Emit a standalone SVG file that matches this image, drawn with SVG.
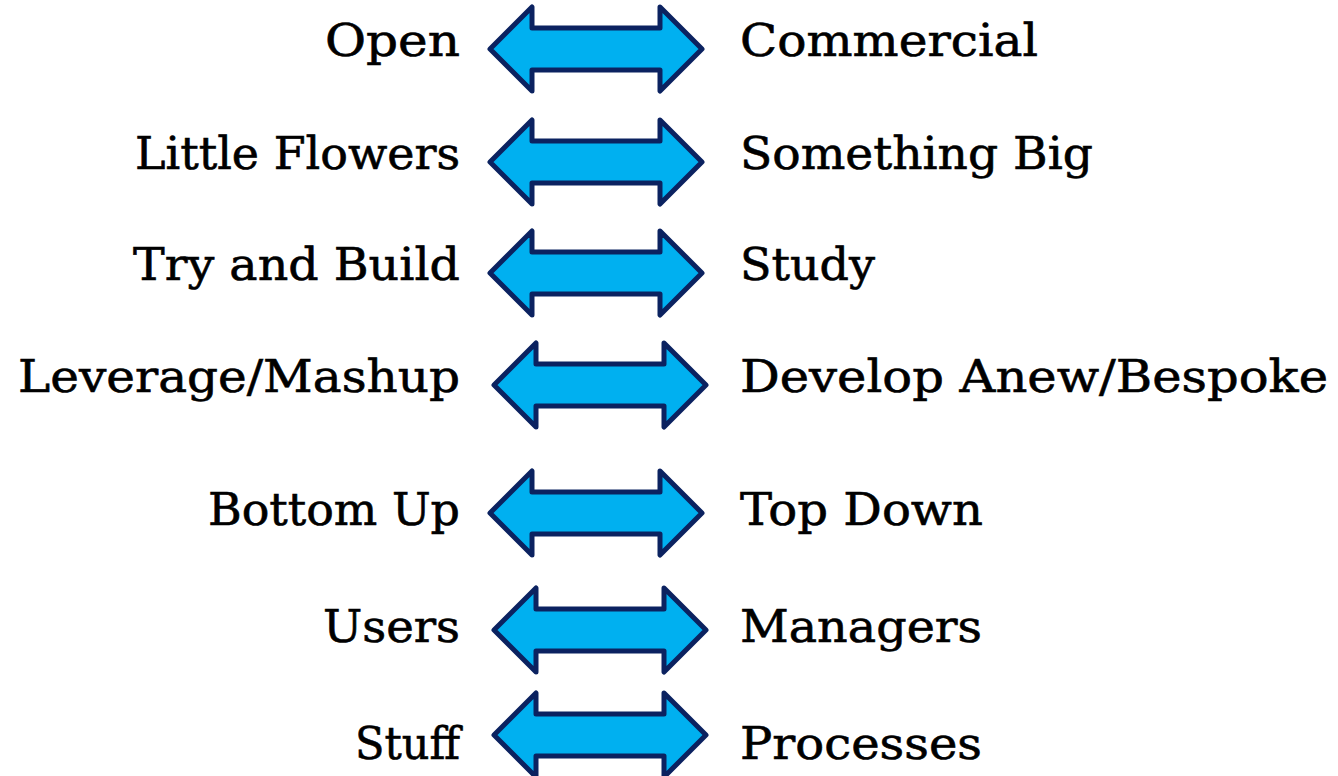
<svg xmlns="http://www.w3.org/2000/svg" width="1338" height="776" viewBox="0 0 1338 776">
<defs>
<style>
.l{font-family:"DejaVu Serif","Liberation Serif",serif;font-size:44px;fill:#000;stroke:#000;stroke-width:0.6;text-anchor:end}
.r{font-family:"DejaVu Serif","Liberation Serif",serif;font-size:44px;fill:#000;stroke:#000;stroke-width:0.6;text-anchor:start}
.a{fill:#00B0F0;stroke:#0B2260;stroke-width:5;stroke-linejoin:round}
</style>
<path id="arr" d="M0,0 L42,-42 L42,-21 L170,-21 L170,-42 L212,0 L170,42 L170,21 L42,21 L42,42 Z"/>
</defs>
<rect width="1338" height="776" fill="#fff"/>
<g id="connectors">
<use href="#arr" class="a" x="490" y="49"/>
<use href="#arr" class="a" x="490" y="162"/>
<use href="#arr" class="a" x="490" y="273"/>
<use href="#arr" class="a" x="494" y="385"/>
<use href="#arr" class="a" x="490" y="513"/>
<use href="#arr" class="a" x="494" y="630"/>
<use href="#arr" class="a" x="494" y="735"/>
</g>
<g id="row1"><text class="l" x="460" y="56" textLength="135" lengthAdjust="spacingAndGlyphs">Open</text><text class="r" x="740" y="56" textLength="298" lengthAdjust="spacingAndGlyphs">Commercial</text></g>
<g id="row2"><text class="l" x="460" y="169" textLength="325" lengthAdjust="spacingAndGlyphs">Little Flowers</text><text class="r" x="740" y="169" textLength="353" lengthAdjust="spacingAndGlyphs">Something Big</text></g>
<g id="row3"><text class="l" x="460" y="280" textLength="327" lengthAdjust="spacingAndGlyphs">Try and Build</text><text class="r" x="740" y="280" textLength="135" lengthAdjust="spacingAndGlyphs">Study</text></g>
<g id="row4"><text class="l" x="460" y="392" textLength="442" lengthAdjust="spacingAndGlyphs">Leverage/Mashup</text><text class="r" x="740" y="392" textLength="588" lengthAdjust="spacingAndGlyphs">Develop Anew/Bespoke</text></g>
<g id="row5"><text class="l" x="460" y="525" textLength="252" lengthAdjust="spacingAndGlyphs">Bottom Up</text><text class="r" x="740" y="525" textLength="243" lengthAdjust="spacingAndGlyphs">Top Down</text></g>
<g id="row6"><text class="l" x="460" y="642" textLength="137" lengthAdjust="spacingAndGlyphs">Users</text><text class="r" x="740" y="642" textLength="242" lengthAdjust="spacingAndGlyphs">Managers</text></g>
<g id="row7"><text class="l" x="460" y="759" textLength="105" lengthAdjust="spacingAndGlyphs">Stuff</text><text class="r" x="740" y="759" textLength="242" lengthAdjust="spacingAndGlyphs">Processes</text></g>
</svg>
